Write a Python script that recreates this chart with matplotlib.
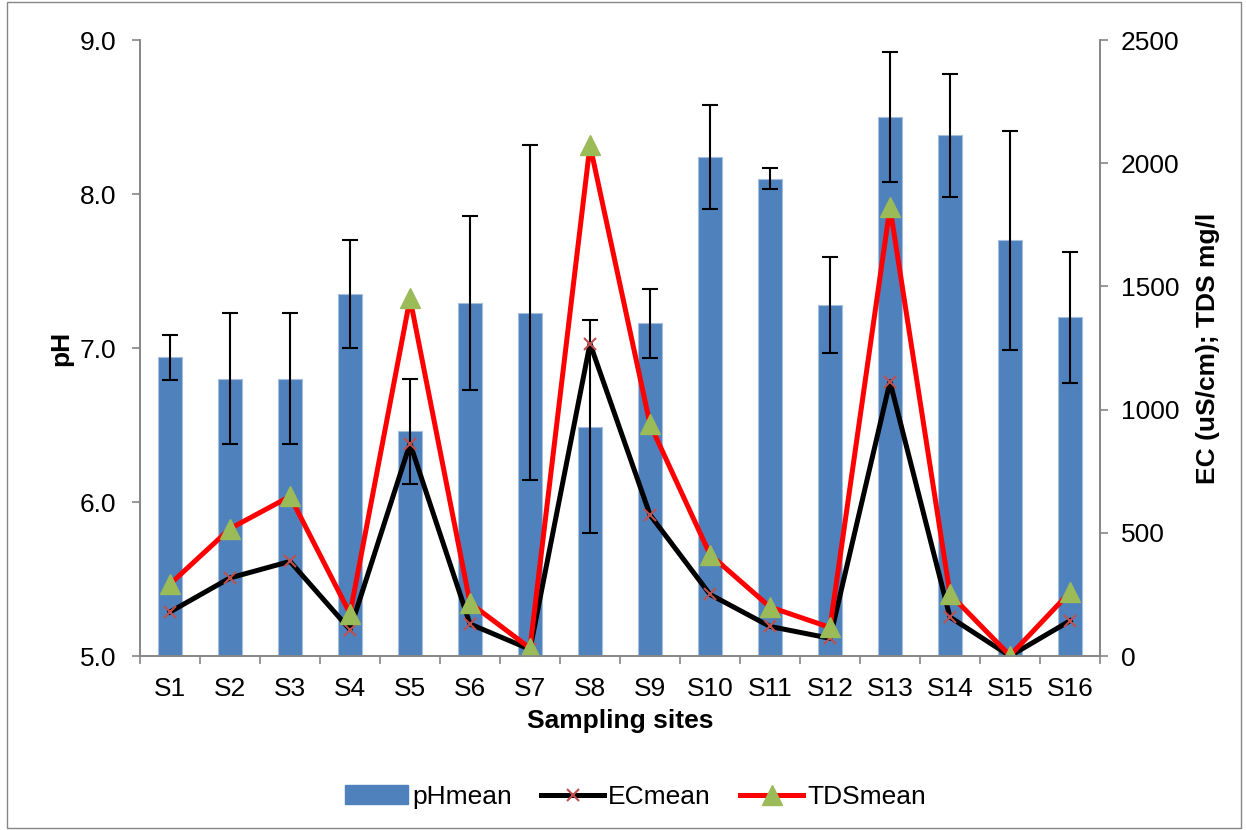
import matplotlib.pyplot as plt
from matplotlib.patches import Rectangle, Patch
from matplotlib.lines import Line2D

plt.rcParams['font.family'] = ['Liberation Sans', 'DejaVu Sans']

# Data
sites = ["S1", "S2", "S3", "S4", "S5", "S6", "S7", "S8",
         "S9", "S10", "S11", "S12", "S13", "S14", "S15", "S16"]
ph_mean = [6.94, 6.80, 6.80, 7.35, 6.46, 7.29, 7.23, 6.49,
           7.16, 8.24, 8.10, 7.28, 8.50, 8.38, 7.70, 7.20]
ph_err = [0.145, 0.425, 0.425, 0.35, 0.34, 0.565, 1.09, 0.69,
          0.225, 0.34, 0.07, 0.31, 0.42, 0.40, 0.71, 0.425]
ec_mean = [179, 317, 384, 107, 862, 130, 27, 1268,
           573, 250, 120, 72, 1113, 158, 0, 143]
tds_mean = [292, 517, 648, 172, 1451, 215, 32, 2073,
            941, 412, 199, 116, 1821, 251, 2, 259]

grey = "#868686"
fs = 19
x = list(range(len(sites)))

fig = plt.figure(figsize=(12.46, 8.30), dpi=100)
ax = fig.add_axes([0.1124, 0.2096, 0.7704, 0.7422])
ax2 = ax.twinx()

ax.bar(x, ph_mean, width=0.4, color="#4F81BD", edgecolor="#A7BFDE",
       linewidth=0.8, yerr=ph_err,
       error_kw=dict(ecolor="black", elinewidth=1.5, capsize=6, capthick=1.5))

ax2.plot(x, ec_mean, color="black", lw=3.6, marker="x", markersize=8,
         markeredgecolor="#C0504D", markeredgewidth=1.5, label="ECmean")
ax2.plot(x, tds_mean, color="#FF0000", lw=3.6, marker="^", markersize=15,
         markerfacecolor="#9BBB59", markeredgecolor="#9BBB59", label="TDSmean")

ax.set_xlim(-0.5, 15.5)
ax.set_ylim(5.0, 9.0)
ax.set_yticks([5.0, 6.0, 7.0, 8.0, 9.0])
ax.set_yticklabels(["5.0", "6.0", "7.0", "8.0", "9.0"])
ax2.set_ylim(0, 2500)
ax2.set_yticks([0, 500, 1000, 1500, 2000, 2500])

ax.set_xticks(x)
ax.set_xticklabels(sites)
ax.set_xticks([i - 0.5 for i in range(len(sites) + 1)], minor=True)
ax.tick_params(axis="x", which="major", length=0, labelsize=fs, pad=15)
ax.tick_params(axis="x", which="minor", length=6, color=grey, width=1.2)
ax.tick_params(axis="y", length=6, color=grey, width=1.2, labelsize=fs, pad=11)
ax2.tick_params(axis="y", length=6, color=grey, width=1.2, labelsize=fs, pad=9)

for a in (ax, ax2):
    a.spines["top"].set_visible(False)
    for s in ("left", "right", "bottom"):
        a.spines[s].set_color(grey)
        a.spines[s].set_linewidth(1.2)

ax.set_xlabel("Sampling sites", fontsize=fs, fontweight="bold", labelpad=6)
ax.set_ylabel("pH", fontsize=fs, fontweight="bold", labelpad=5)
ax2.set_ylabel("EC (uS/cm); TDS mg/l", fontsize=fs, fontweight="bold", labelpad=12)

handles = [
    Patch(facecolor="#4F81BD", edgecolor="#4F81BD"),
    Line2D([], [], color="black", lw=3.6, marker="x", markersize=8,
           markeredgecolor="#C0504D", markeredgewidth=1.5),
    Line2D([], [], color="#FF0000", lw=3.6, marker="^", markersize=15,
           markerfacecolor="#9BBB59", markeredgecolor="#9BBB59"),
]
fig.legend(handles, ["pHmean", "ECmean", "TDSmean"], loc="center",
           bbox_to_anchor=(0.51, 0.04), ncol=3, frameon=False,
           fontsize=fs, handlelength=2.4, handletextpad=0.15, columnspacing=1.1)

fig.patches.append(Rectangle((0.006, 0.002), 0.99, 0.995, transform=fig.transFigure,
                             fill=False, edgecolor=grey, lw=1))

fig.savefig("out.png", dpi=100)
